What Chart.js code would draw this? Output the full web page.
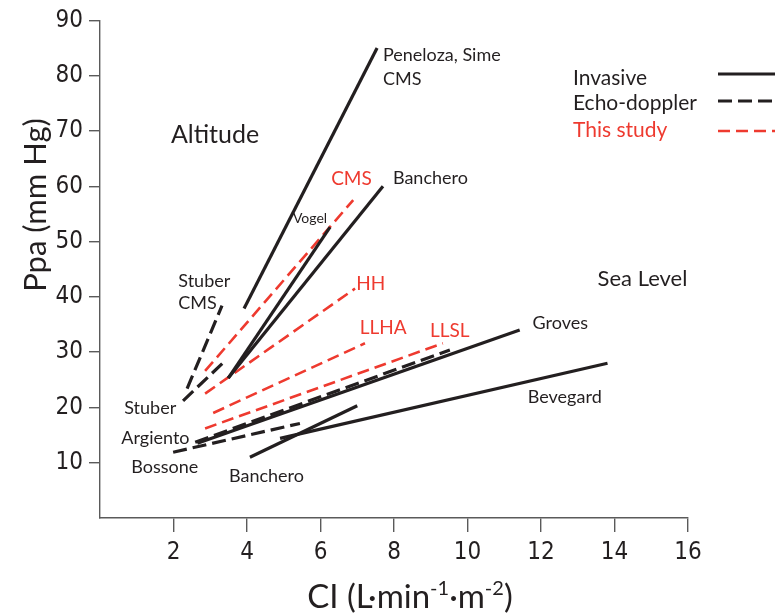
<!DOCTYPE html>
<html>
<head>
<meta charset="utf-8">
<script src="https://cdn.jsdelivr.net/npm/chart.js@4"></script>
<style>
  html, body { margin: 0; padding: 0; background: #fff; }
  #wrap { width: 775px; height: 614px; }
</style>
</head>
<body>
<div id="wrap"><canvas id="myChart" width="775" height="614"></canvas></div>
<script>
// each study is one straight segment: CI (x) against Ppa (y)
studies = ["Peneloza, Sime CMS", "Banchero (altitude)", "Vogel", "Stuber CMS", "Stuber",
           "Argiento", "Bossone", "Groves", "Bevegard", "Banchero (sea level)",
           "CMS", "HH", "LLHA", "LLSL"];
method  = ["invasive", "invasive", "invasive", "echo", "echo",
           "echo", "echo", "invasive", "invasive", "invasive",
           "study", "study", "study", "study"];
ciStart  = [3.92, 3.49, 3.49, 2.37, 2.26, 2.59, 1.99, 2.65, 4.90, 4.08, 2.86, 2.86, 3.08, 2.86];
ciEnd    = [7.54, 7.70, 6.26, 3.32, 3.40, 9.52, 5.44, 11.42, 13.81, 7.00, 6.89, 6.94, 7.21, 9.33];
ppaStart = [37.9, 25.3, 25.3, 23.4, 21.2, 13.7, 11.9, 13.5, 14.4, 11.0, 26.6, 22.5, 19.0, 16.2];
ppaEnd   = [85.0, 60.0, 52.6, 38.4, 28.4, 30.4, 17.1, 34.0, 28.0, 20.3, 57.5, 41.5, 31.6, 31.6];

xTicks = [2, 4, 6, 8, 10, 12, 14, 16];
yTicks = [10, 20, 30, 40, 50, 60, 70, 80, 90];

// text annotations placed in data units
noteText = ["Peneloza, Sime", "CMS", "Altitude", "Banchero", "CMS", "Vogel", "Stuber", "CMS",
            "HH", "Sea Level", "LLHA", "LLSL", "Groves", "Bevegard", "Stuber", "Argiento",
            "Bossone", "Banchero"];
noteX = [7.70, 7.70, 3.13, 7.97, 6.29, 5.25, 2.13, 2.13, 6.97, 13.54, 7.07, 8.98, 11.77, 11.64, 0.66, 0.58, 0.85, 3.51];
noteY = [83.7, 79.4, 69.2, 61.4, 61.3, 54.2, 42.8, 38.8, 42.4, 43.3, 34.3, 33.9, 35.2, 21.9, 19.8, 14.4, 9.2, 7.5];
noteKind = ["n", "n", "alt", "n", "red", "small", "n", "n", "red", "sea", "red", "red", "n", "n", "n", "n", "n", "n"];

legendText = ["Invasive", "Echo-doppler", "This study"];
legendKind = ["invasive", "echo", "study"];

const BLACK = "#231f20";
const RED = "#ee3a2f";
const FONT = "Lato, 'Open Sans', sans-serif";

function styleFor(kind) {
  if (kind === "invasive") return { color: BLACK, width: 3.2, dash: [] };
  if (kind === "echo") return { color: BLACK, width: 3.2, dash: [14, 6] };
  return { color: RED, width: 2.6, dash: [12, 6] };
}

datasets = studies.map((name, i) => {
  const s = styleFor(method[i]);
  return {
    label: name,
    data: [{ x: ciStart[i], y: ppaStart[i] }, { x: ciEnd[i], y: ppaEnd[i] }],
    borderColor: s.color,
    borderWidth: s.width,
    borderDash: s.dash,
    borderCapStyle: "butt",
    pointRadius: 0,
    showLine: true,
    fill: false,
    tension: 0
  };
});

const decorations = {
  id: "decorations",
  afterDraw(chart) {
    const ctx = chart.ctx;
    const xs = chart.scales.x, ys = chart.scales.y;
    ctx.save();
    ctx.textBaseline = "middle";

    // notes
    noteText.forEach((t, i) => {
      const k = noteKind[i];
      let size = 18, color = BLACK, align = "left";
      if (k === "alt") { size = 25; align = "center"; }
      if (k === "sea") { size = 22; }
      if (k === "small") { size = 14; }
      if (k === "red") { color = RED; size = 19; }
      ctx.font = size + "px " + FONT;
      ctx.fillStyle = color;
      ctx.textAlign = align;
      ctx.fillText(t, xs.getPixelForValue(noteX[i]), ys.getPixelForValue(noteY[i]));
    });

    // legend, top right
    const rowY = [78, 103, 130];
    const lineY = [74, 101, 131];
    legendText.forEach((t, i) => {
      const s = styleFor(legendKind[i]);
      ctx.font = "21px " + FONT;
      ctx.textAlign = "left";
      ctx.fillStyle = legendKind[i] === "study" ? RED : BLACK;
      ctx.fillText(t, 573, rowY[i]);
      ctx.beginPath();
      ctx.strokeStyle = s.color;
      ctx.lineWidth = s.width;
      ctx.setLineDash(s.dash);
      ctx.moveTo(718, lineY[i]);
      ctx.lineTo(790, lineY[i]);
      ctx.stroke();
    });
    ctx.setLineDash([]);

    // axis titles
    ctx.fillStyle = BLACK;
    ctx.textAlign = "center";
    ctx.save();
    ctx.translate(36, 205);
    ctx.rotate(-Math.PI / 2);
    ctx.font = "31px " + FONT;
    ctx.fillText("Ppa (mm Hg)", 0, 0);
    ctx.restore();

    // CI (L·min-1·m-2) with superscripts
    const parts = [["CI (L·min", false], ["-1", true], ["·m", false], ["-2", true], [")", false]];
    let total = 0;
    parts.forEach(p => { ctx.font = (p[1] ? "20px " : "33px ") + FONT; total += ctx.measureText(p[0]).width; });
    let x = 410 - total / 2;
    ctx.textAlign = "left";
    ctx.textBaseline = "alphabetic";
    parts.forEach(p => {
      ctx.font = (p[1] ? "20px " : "33px ") + FONT;
      ctx.fillText(p[0], x, p[1] ? 595 : 608);
      x += ctx.measureText(p[0]).width;
    });
    ctx.restore();
  }
};

const axisGrey = "#5a5a5a";

new Chart(document.getElementById("myChart"), {
  type: "scatter",
  data: { datasets: datasets },
  plugins: [decorations],
  options: {
    responsive: false,
    animation: false,
    events: [],
    layout: { padding: { left: 0, top: 17, right: 87, bottom: 0 } },
    plugins: { legend: { display: false }, tooltip: { enabled: false } },
    scales: {
      x: {
        type: "linear",
        min: 0, max: 16,
        afterBuildTicks: s => { s.ticks = [0].concat(xTicks).map(v => ({ value: v })); },
        afterFit: s => { s.height = 614 - 518; },
        ticks: {
          callback: v => (v === 0 ? "" : v),
          font: { family: "'Liberation Sans Narrow', 'DejaVu Sans Condensed', sans-serif", size: 24 },
          color: BLACK,
          padding: 6,
          maxRotation: 0
        },
        grid: {
          drawOnChartArea: false,
          drawTicks: true,
          tickLength: 14,
          lineWidth: 1.4,
          color: c => (c.tick && c.tick.value === 0 ? "rgba(0,0,0,0)" : axisGrey)
        },
        border: { display: true, color: axisGrey, width: 1.4 }
      },
      y: {
        type: "linear",
        min: 0, max: 90,
        afterBuildTicks: s => { s.ticks = [0].concat(yTicks).map(v => ({ value: v })); },
        afterFit: s => { s.width = 100; },
        ticks: {
          callback: v => (v === 0 ? "" : v),
          font: { family: "'Liberation Sans Narrow', 'DejaVu Sans Condensed', sans-serif", size: 24 },
          color: BLACK,
          padding: 6
        },
        grid: {
          drawOnChartArea: false,
          drawTicks: true,
          tickLength: 11,
          lineWidth: 1.4,
          color: c => (c.tick && c.tick.value === 0 ? "rgba(0,0,0,0)" : axisGrey)
        },
        border: { display: true, color: axisGrey, width: 1.4 }
      }
    }
  }
});
</script>
</body>
</html>
